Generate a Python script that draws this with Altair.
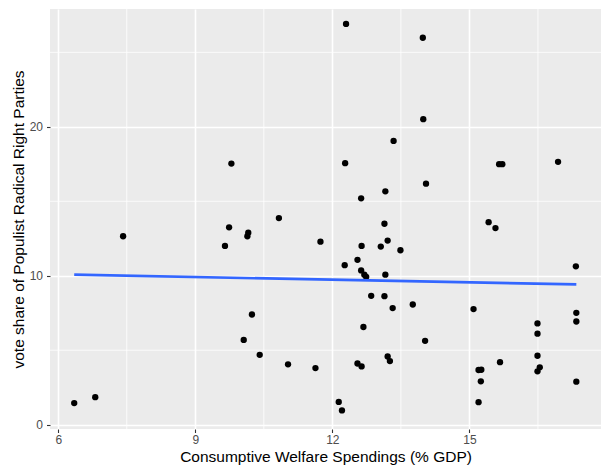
import altair as alt
import pandas as pd

# Consumptive welfare spending (% GDP) and vote share of populist radical right parties
spending = [
    6.35, 6.81, 7.42, 9.65, 9.74, 9.79, 10.16, 10.14, 10.83, 10.24,
    10.06, 10.41, 11.03, 11.63, 11.74, 12.30, 13.98, 13.99, 13.34, 12.28,
    15.65, 15.72, 16.94, 14.05, 13.16, 12.63, 13.14, 15.42, 15.57, 13.21,
    13.06, 12.64, 13.49, 12.55, 12.27, 12.63, 12.70, 12.74, 13.16, 17.33,
    12.85, 13.14, 13.32, 13.76, 15.09, 17.34, 17.34, 16.49, 16.49, 12.68,
    14.03, 16.49, 13.21, 13.26, 12.55, 12.64, 15.67, 15.20, 15.26, 15.25,
    16.54, 16.49, 17.34, 15.20, 12.14, 12.21,
]
vote_share = [
    1.45, 1.85, 12.65, 12.00, 13.25, 17.53, 12.89, 12.65, 13.87, 7.40,
    5.69, 4.69, 4.05, 3.80, 12.29, 26.91, 25.98, 20.51, 19.05, 17.56,
    17.49, 17.49, 17.65, 16.18, 15.67, 15.20, 13.49, 13.60, 13.20, 12.36,
    11.96, 12.00, 11.71, 11.07, 10.71, 10.36, 10.07, 9.93, 10.07, 10.63,
    8.65, 8.63, 7.83, 8.07, 7.76, 7.51, 6.93, 6.80, 6.11, 6.56,
    5.63, 4.63, 4.58, 4.27, 4.11, 3.91, 4.20, 3.67, 3.69, 2.91,
    3.85, 3.58, 2.89, 1.51, 1.53, 0.96,
]

x_ticks = [6, 9, 12, 15]
y_ticks = [0, 10, 20]
x_minor = [7.5, 10.5, 13.5, 16.5]
y_minor = [5, 15, 25]

df = pd.DataFrame({"spending": spending, "vote": vote_share})

FONT = "Liberation Sans"
x_title = "Consumptive Welfare Spendings (% GDP)"
y_title = "vote share of Populist Radical Right Parties"

xscale = alt.Scale(domain=[5.82, 17.88], nice=False, zero=False)
yscale = alt.Scale(domain=[-0.29, 27.91], nice=False, zero=False)

common_axis = dict(
    grid=True, gridColor="white", gridWidth=1.6,
    domain=False, tickColor="#333333", tickSize=3.5, tickWidth=1.1,
    labelColor="#4D4D4D", labelFontSize=12, labelFont=FONT,
    titleFont=FONT, titleFontSize=15.5, titleColor="black",
    titleFontWeight="normal",
)
xaxis = alt.Axis(title=x_title, values=x_ticks, labelPadding=2, titlePadding=4, **common_axis)
yaxis = alt.Axis(title=y_title, values=y_ticks, labelPadding=4, titlePadding=3, **common_axis)

minor_x = alt.Chart(pd.DataFrame({"v": x_minor})).mark_rule(
    color="white", strokeWidth=0.8
).encode(x=alt.X("v:Q", scale=xscale, axis=xaxis))

minor_y = alt.Chart(pd.DataFrame({"v": y_minor})).mark_rule(
    color="white", strokeWidth=0.8
).encode(y=alt.Y("v:Q", scale=yscale, axis=yaxis))

points = alt.Chart(df).mark_circle(color="black", opacity=1, size=40).encode(
    x=alt.X("spending:Q", scale=xscale, axis=xaxis),
    y=alt.Y("vote:Q", scale=yscale, axis=yaxis),
)

line = alt.Chart(df).transform_regression("spending", "vote").mark_line(
    color="#3366FF", strokeWidth=2.7
).encode(
    x=alt.X("spending:Q", scale=xscale, axis=xaxis),
    y=alt.Y("vote:Q", scale=yscale, axis=yaxis),
)

chart = alt.layer(minor_x, minor_y, points, line).properties(
    width=594, height=457,
    autosize=alt.AutoSizeParams(type="fit", contains="padding"),
    padding={"left": 3, "top": 0, "right": 0, "bottom": 0},
).configure_view(fill="#EBEBEB", strokeWidth=0)

chart.save("out.html", embed_options={"renderer": "svg", "actions": False})
